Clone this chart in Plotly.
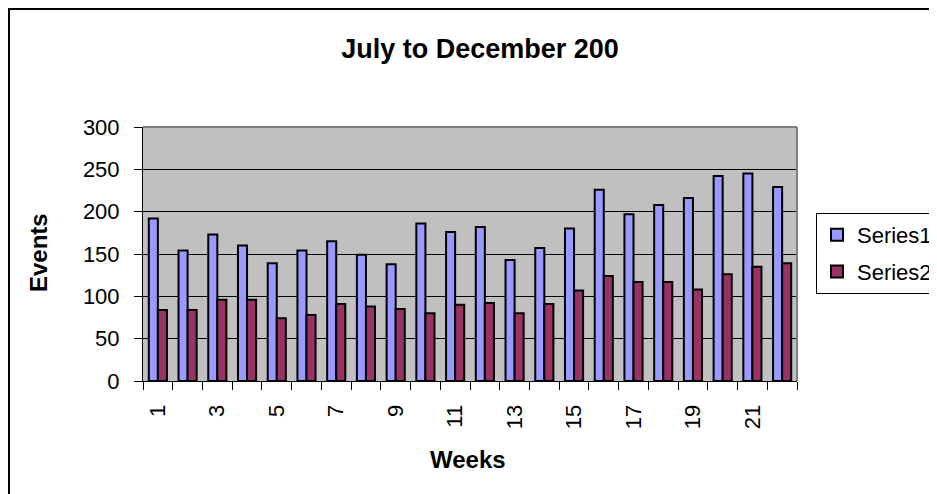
import plotly.graph_objects as go

weeks = list(range(1, 23))
series1 = [192, 154, 173, 160, 139, 154, 165, 149, 138, 186, 176,
           182, 143, 157, 180, 226, 197, 208, 216, 242, 245, 229]
series2 = [84, 84, 96, 96, 74, 78, 91, 88, 85, 80, 90,
           92, 80, 91, 107, 124, 117, 117, 108, 126, 135, 139]
tick_labels = [str(w) for w in weeks if w % 2 == 1]
tick_positions = [w for w in weeks if w % 2 == 1]

FONT = "Arial, Liberation Sans, sans-serif"

fig = go.Figure()
fig.add_trace(go.Bar(x=weeks, y=series1, name="Series1", legendgroup="a",
                     marker=dict(color="#9999FF", line=dict(color="black", width=2))))
fig.add_trace(go.Bar(x=weeks, y=series2, name="Series2", legendgroup="b",
                     marker=dict(color="#993366", line=dict(color="black", width=2))))

OFF = 8  # page body margin
W, H = 937 - OFF, 494 - OFF
L, R, T, B = 143 - OFF, 797 - OFF, 127 - OFF, 381 - OFF
pw, ph = R - L, B - T


def px(x):
    return (x - OFF - L) / pw


def py(y):
    return 1 - (y - OFF - T) / ph


fig.update_layout(
    width=W, height=H,
    margin=dict(l=L, r=W - R, t=T, b=H - B, autoexpand=False),
    paper_bgcolor="white",
    plot_bgcolor="#C0C0C0",
    barmode="group",
    bargap=0.39,
    bargroupgap=0,
    font=dict(family=FONT, size=22, color="black"),
    title=dict(text="<b>July to December 200</b>", x=(480 - OFF) / W, xanchor="center",
               y=1 - (49 - OFF) / H, yanchor="middle", font=dict(size=27)),
    showlegend=True,
    legend=dict(x=px(816), y=py(213), xanchor="left", yanchor="top",
                bordercolor="black", borderwidth=1, bgcolor="white",
                font=dict(size=22), tracegroupgap=5, traceorder="grouped"),
    xaxis=dict(
        range=[0.5, 22.5],
        tickmode="array", tickvals=tick_positions, ticktext=tick_labels,
        tickangle=-90, ticks="", ticklabelstandoff=14,
        showgrid=False, zeroline=False,
        showline=True, linecolor="black", linewidth=1,
        minor=dict(tickmode="array", tickvals=[w + 0.5 for w in [0] + weeks],
                   ticks="outside", ticklen=8, tickcolor="black", showgrid=False),
        tickfont=dict(size=22),
    ),
    yaxis=dict(
        range=[0, 300], tickvals=[0, 50, 100, 150, 200, 250, 300],
        ticks="outside", ticklen=8, tickcolor="black", ticklabelstandoff=10,
        showgrid=True, gridcolor="black", gridwidth=1,
        zeroline=False, showline=True, linecolor="black", linewidth=1,
        tickfont=dict(size=22),
    ),
    annotations=[
        dict(text="<b>Events</b>", x=px(38), y=py(253), xref="paper", yref="paper",
             xanchor="center", yanchor="middle",
             textangle=-90, showarrow=False, font=dict(size=24)),
        dict(text="<b>Weeks</b>", x=px(468), y=py(459), xref="paper", yref="paper",
             xanchor="center", yanchor="middle",
             showarrow=False, font=dict(size=24)),
    ],
    shapes=[
        dict(type="line", xref="paper", yref="paper", x0=0, x1=1, y0=1, y1=1,
             line=dict(color="#808080", width=2)),
        dict(type="line", xref="paper", yref="paper", x0=1, x1=1, y0=0, y1=1,
             line=dict(color="#808080", width=2)),
        dict(type="rect", xref="paper", yref="paper", x0=px(OFF + 1), x1=px(960),
             y0=py(520), y1=py(OFF + 1), line=dict(color="black", width=2)),
    ],
)

fig.write_html("out.html")
